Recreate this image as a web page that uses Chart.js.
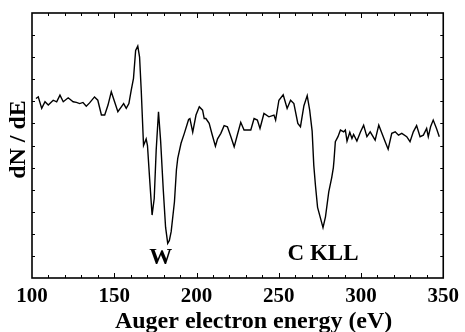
<!DOCTYPE html>
<html>
<head>
<meta charset="utf-8">
<script src="https://cdn.jsdelivr.net/npm/chart.js@4/dist/chart.umd.min.js"></script>
<style>
  html, body { margin: 0; padding: 0; background: #fff; }
  #wrap { width: 465px; height: 332px; position: relative; }
</style>
</head>
<body>
<div id="wrap"><canvas id="myChart"></canvas></div>
<script>
'use strict';

// Auger spectrum (arbitrary dN/dE units, 0..12)
var energy = [102.4, 103.8, 105.9, 107.9, 109.9, 112.9, 115, 117, 119, 122, 125, 127, 129, 131, 133, 135, 138, 140,
    142.2, 144.2, 146.2, 148.2, 150.2, 152.2, 154.3, 155.7, 157.3, 158.9, 160.3, 161.7, 163, 164.3, 165.4, 166.4,
    167.8, 169.4, 170.2, 171.5, 173, 174.3, 175.5, 176.9, 178.2, 179.8, 181.2, 182.5, 183.5, 184.6, 186.6, 187.8,
    188.6, 190.6, 192.6, 195.2, 196, 197.7, 199.7, 201.7, 203.7, 204.7, 205.7, 207.7, 209.5, 211.5, 212.8, 214.8,
    216.8, 218.8, 220.9, 222.9, 224.9, 226.9, 228.9, 231.5, 233, 235, 237, 238.6, 241, 244, 247.1, 248.1, 250.1,
    252.7, 255.1, 257.2, 259.2, 261.6, 263.2, 265.3, 267.3, 268.8, 270.3, 271.3, 272.3, 273.6, 275.4, 276.9, 278.4,
    280.4, 282.2, 283.2, 283.6, 284.4, 286, 287.5, 289.5, 290.5, 291.5, 293.2, 294.5, 295.5, 297.5, 299.6, 301.6,
    303.6, 305.6, 308.6, 310.8, 312.7, 314.7, 316.5, 318.7, 320.8, 322.8, 324.8, 327.8, 329.8, 331.8, 333.8, 335.9,
    337.9, 339.9, 340.9, 342.3, 343.9, 345.9, 347.6];
var signal = [8.13, 8.2, 7.68, 7.98, 7.83, 8.05, 7.98, 8.28, 7.98, 8.16, 7.98, 7.95, 7.9, 7.95, 7.78, 7.93, 8.2, 8.05,
    7.38, 7.38, 7.83, 8.43, 7.98, 7.53, 7.75, 7.9, 7.68, 7.9, 8.5, 9.04, 10.3, 10.5, 10.0, 8.5,
    6.0, 6.3, 6.0, 4.5, 2.85, 3.6, 5.8, 7.53, 6.2, 4.0, 2.3, 1.57, 1.7, 2.1, 3.45, 4.9,
    5.42, 6.1, 6.55, 7.18, 7.22, 6.6, 7.38, 7.75, 7.6, 7.22, 7.22, 7.0, 6.5, 5.97, 6.3, 6.55,
    6.9, 6.85, 6.4, 5.94, 6.5, 7.05, 6.7, 6.7, 6.7, 7.22, 7.15, 6.77, 7.45, 7.3, 7.38, 7.15, 8.05,
    8.3, 7.68, 8.05, 7.9, 7.0, 6.85, 7.8, 8.26, 7.6, 6.65, 5.1, 4.2, 3.2, 2.7, 2.28, 2.77,
    3.9, 4.55, 5.0, 5.34, 6.17, 6.4, 6.7, 6.62, 6.7, 6.2, 6.6, 6.32, 6.5, 6.2, 6.6, 6.92,
    6.4, 6.62, 6.24, 6.92, 6.55, 6.17, 5.83, 6.55, 6.62, 6.47, 6.55, 6.4, 6.17, 6.62, 6.9, 6.4,
    6.47, 6.77, 6.4, 6.85, 7.15, 6.77, 6.4];

var xTickLabels = [100, 150, 200, 250, 300, 350];
var xTitle = 'Auger electron energy (eV)';
var yTitle = 'dN / dE';

// peak labels
var annotText = ['W', 'C KLL'];
var annotX = [178.3, 276.9];
var annotY = [0.9, 1.1];

var serif = '"Liberation Serif", "Times New Roman", serif';

// frame, inward ticks on all four sides, axis titles and peak labels
var framePlugin = {
    id: 'frame',
    afterDraw: function (chart) {
        var ctx = chart.ctx;
        var a = chart.chartArea;
        var xs = chart.scales.x;
        var ys = chart.scales.y;
        ctx.save();
        ctx.strokeStyle = '#000';
        ctx.lineWidth = 1;
        var v, px, len;
        for (v = 110; v < 350; v += 10) {
            px = Math.round(xs.getPixelForValue(v)) + 0.5;
            len = (v % 50 === 0) ? 5 : 3;
            ctx.beginPath();
            ctx.moveTo(px, a.bottom); ctx.lineTo(px, a.bottom - len);
            ctx.moveTo(px, a.top); ctx.lineTo(px, a.top + len);
            ctx.stroke();
        }
        for (v = 1; v < 12; v++) {
            px = Math.round(ys.getPixelForValue(v)) + 0.5;
            ctx.beginPath();
            ctx.moveTo(a.left, px); ctx.lineTo(a.left + 3, px);
            ctx.moveTo(a.right, px); ctx.lineTo(a.right - 3, px);
            ctx.stroke();
        }
        ctx.lineWidth = 1.6;
        ctx.strokeRect(a.left, a.top, a.right - a.left, a.bottom - a.top);

        ctx.fillStyle = '#000';
        ctx.font = 'bold 23px ' + serif;
        ctx.textAlign = 'center';
        ctx.textBaseline = 'middle';
        for (var i = 0; i < annotText.length; i++) {
            ctx.fillText(annotText[i], xs.getPixelForValue(annotX[i]), ys.getPixelForValue(annotY[i]));
        }

        // axis titles, set a little off-centre as in the original figure
        ctx.font = 'bold 24px ' + serif;
        ctx.textBaseline = 'alphabetic';
        ctx.fillText(xTitle, (a.left + a.right) / 2 + 16, chart.height - 4);
        ctx.translate(25, (a.top + a.bottom) / 2 - 6);
        ctx.rotate(-Math.PI / 2);
        ctx.fillText(yTitle, 0, 0);
        ctx.restore();
    }
};

var points = energy.map(function (e, i) { return {x: e, y: signal[i]}; });

var ctx = document.getElementById('myChart');
var myChart = new Chart(ctx, {
    type: 'line',
    data: {
        datasets: [{
            label: 'dN/dE',
            data: points,
            borderColor: '#000',
            borderWidth: 1.4,
            pointRadius: 0,
            fill: false,
            tension: 0
        }]
    },
    options: {
        responsive: true,
        maintainAspectRatio: false,
        animation: false,
        layout: {padding: {top: 13, right: 20, left: 0, bottom: 0}},
        plugins: {
            legend: {display: false},
            tooltip: {enabled: false}
        },
        scales: {
            x: {
                type: 'linear',
                min: 100,
                max: 350,
                grid: {display: false, drawTicks: false},
                border: {display: false},
                afterBuildTicks: function (scale) {
                    scale.ticks = xTickLabels.map(function (v) { return {value: v}; });
                },
                afterFit: function (scale) { scale.height = 54; },
                ticks: {
                    color: '#000',
                    padding: 6,
                    maxRotation: 0,
                    autoSkip: false,
                    font: {family: serif, size: 21, weight: 'bold'}
                },
                title: {display: false}
            },
            y: {
                min: 0,
                max: 12,
                grid: {display: false, drawTicks: false},
                border: {display: false},
                ticks: {display: false},
                afterFit: function (scale) { scale.width = 32; },
                title: {display: false}
            }
        }
    },
    plugins: [framePlugin]
});
</script>
</body>
</html>
